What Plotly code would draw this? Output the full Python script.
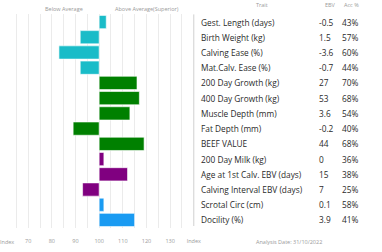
import plotly.graph_objects as go

traits = ["Gest. Length (days)", "Birth Weight (kg)", "Calving Ease (%)", "Mat.Calv. Ease (%)",
          "200 Day Growth (kg)", "400 Day Growth (kg)", "Muscle Depth (mm)", "Fat Depth (mm)",
          "BEEF VALUE", "200 Day Milk (kg)", "Age at 1st Calv. EBV (days)",
          "Calving Interval EBV (days)", "Scrotal Circ (cm)", "Docility (%)"]
index_vals = [103, 92, 83, 92, 116, 117, 113, 89, 119, 102, 112, 93, 102, 115]
ebv = ["-0.5", "1.5", "-3.6", "-0.7", "27", "53", "3.6", "-0.2", "44", "0", "15", "7", "0.1", "3.9"]
acc = ["43%", "57%", "60%", "44%", "70%", "68%", "54%", "40%", "68%", "36%", "38%", "25%", "58%", "41%"]
group_colors = ["#1ABCC8"] * 4 + ["#008000"] * 5 + ["#800080"] * 3 + ["#1A9BF2"] * 2
tick_vals = list(range(60, 141, 5))
tick_text = ["Index" if v == 140 else (str(v) if (v % 10 == 0 and v != 60) else "") for v in tick_vals]

W, H = 382, 252
x_lo, x_hi = 4.6 / W, 197.4 / W
y_top_px, y_bot_px = 14.4, 227.6

fig = go.Figure()
rows = list(range(len(traits)))
fig.add_trace(go.Bar(
    y=rows, x=[v - 100 for v in index_vals], base=100, orientation="h",
    marker=dict(color=group_colors, line=dict(color="rgba(255,255,255,0.6)", width=1)),
    width=0.87, showlegend=False, hoverinfo="skip"))

font_main = "Open Sans"
ann = []
for i, t in enumerate(traits):
    ann.append(dict(x=203 / W, y=i, xref="paper", yref="y", text=t, showarrow=False,
                    xanchor="left", yanchor="middle", font=dict(size=8.3, color="#2a2a2a", family=font_main)))
    ann.append(dict(x=322.5 / W, y=i, xref="paper", yref="y", text=ebv[i], showarrow=False,
                    xanchor="left", yanchor="middle", font=dict(size=8.3, color="#2a2a2a", family=font_main)))
    ann.append(dict(x=346.5 / W, y=i, xref="paper", yref="y", text=acc[i], showarrow=False,
                    xanchor="left", yanchor="middle", font=dict(size=8.3, color="#2a2a2a", family=font_main)))

hdr = dict(size=5.5, color="#9a9a9a", family=font_main)
for txt, cx, cy in [("Below Average", 65, 9), ("Above Average(Superior)", 150, 9),
                    ("Trait", 267, 5), ("EBV", 337, 5), ("Acc %", 358, 5),
                    ("Index", 7, 242), ("Analysis Date: 31/10/2022", 294, 242)]:
    ann.append(dict(x=cx / W, y=1 - cy / H, xref="paper", yref="paper", text=txt, showarrow=False,
                    xanchor="center", yanchor="middle", font=hdr))

fig.update_layout(
    width=W, height=H, autosize=False,
    margin=dict(l=0, r=0, t=0, b=0),
    paper_bgcolor="white", plot_bgcolor="white",
    annotations=ann,
    xaxis=dict(domain=[x_lo, x_hi], range=[60, 140], tickvals=tick_vals, ticktext=tick_text,
               showgrid=True, gridcolor="#ebebeb", gridwidth=1, zeroline=False, showline=False,
               ticks="outside", ticklen=8, tickcolor="rgba(0,0,0,0)",
               tickfont=dict(size=5.5, color="#9a9a9a", family=font_main)),
    yaxis=dict(domain=[1 - y_bot_px / H, 1 - y_top_px / H], range=[13.5, -0.5],
               showticklabels=False, showgrid=False, zeroline=False, showline=False),
    shapes=[dict(type="line", xref="paper", yref="paper", x0=x_hi, x1=x_hi,
                 y0=1 - 226 / H, y1=1 - y_top_px / H, line=dict(color="#d0d0d0", width=1))],
    bargap=0.13,
)
fig.write_html("out.html")
